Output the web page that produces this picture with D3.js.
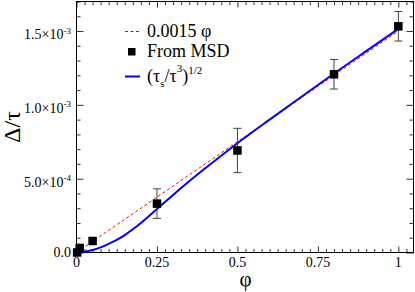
<!DOCTYPE html>
<html>
<head>
<meta charset="utf-8">
<script src="https://cdn.jsdelivr.net/npm/d3@7"></script>
<style>
  body { margin: 0; background: #fff; }
  svg { display: block; }
  text { font-family: "Liberation Serif", "DejaVu Serif", serif; }
</style>
</head>
<body>
<div id="chart"></div>
<script>
// tick labels
let xTicks = [0, 0.25, 0.5, 0.75, 1];
let xTickLabels = ["0", "0.25", "0.5", "0.75", "1"];
let yTicks = [0, 5e-4, 1e-3, 1.5e-3];
let yTickLabels = [["0.0", ""], ["5.0\u00d710", "-4"], ["1.0\u00d710", "-3"], ["1.5\u00d710", "-3"]];

// 0.0015 phi
let linePhi = [0, 1];
let lineVal = [0, 0.0015];

// from MSD
let msdPhi = [0.002, 0.01, 0.05, 0.25, 0.5, 0.8, 1.0];
let msdVal = [0, 3.1e-5, 7.8e-5, 3.31e-4, 6.91e-4, 1.207e-3, 1.532e-3];
let msdErr = [0, 0, 0, 1.0e-4, 1.5e-4, 1.0e-4, 1.0e-4];

// (tau_s/tau^3)^(1/2)
let curvePhi = [0, 0.025, 0.05, 0.075, 0.1, 0.125, 0.15, 0.175, 0.2, 0.25, 0.3, 0.35, 0.4, 0.5, 0.6, 0.7, 0.8, 0.9, 1.0];
let curveVal = [0, 5e-6, 1.7e-5, 3.5e-5, 5.9e-5, 8.6e-5, 1.18e-4, 1.57e-4, 2.0e-4, 2.95e-4, 3.9e-4, 4.82e-4, 5.7e-4, 7.4e-4, 9.0e-4, 1.057e-3, 1.212e-3, 1.364e-3, 1.515e-3];

let width = 415, height = 292;

let svg = d3.select("#chart").append("svg")
    .attr("width", width)
    .attr("height", height);

let x = d3.scaleLinear().domain([0, 1.047]).range([76.5, 413.5]);
let y = d3.scaleLinear().domain([0, 1.7e-3]).range([252.5, 1.5]);

let xMinor = d3.range(0, 1.04, 0.025).filter(v => Math.abs(v / 0.25 - Math.round(v / 0.25)) > 1e-6);
let yMinor = d3.range(0, 1.71e-3, 1e-4).filter(v => Math.abs(v / 5e-4 - Math.round(v / 5e-4)) > 1e-6);

function tickAxis(axisFn, scale, values, size, transform) {
    let g = svg.append("g")
        .attr("transform", transform)
        .call(axisFn(scale).tickValues(values).tickSizeInner(-size).tickSizeOuter(0).tickFormat(""));
    g.select(".domain").remove();
    g.selectAll("line").attr("stroke", "#333").attr("stroke-width", 1);
}

// ticks on all four sides
tickAxis(d3.axisBottom, x, xTicks, 6, "translate(0," + y(0) + ")");
tickAxis(d3.axisBottom, x, xMinor, 3.5, "translate(0," + y(0) + ")");
tickAxis(d3.axisTop, x, xTicks, 6, "translate(0," + y(1.7e-3) + ")");
tickAxis(d3.axisTop, x, xMinor, 3.5, "translate(0," + y(1.7e-3) + ")");
tickAxis(d3.axisLeft, y, yTicks, 7, "translate(" + x(0) + ",0)");
tickAxis(d3.axisLeft, y, yMinor, 4, "translate(" + x(0) + ",0)");
tickAxis(d3.axisRight, y, yTicks, 7, "translate(" + x(1.047) + ",0)");
tickAxis(d3.axisRight, y, yMinor, 4, "translate(" + x(1.047) + ",0)");

// frame
svg.append("rect")
    .attr("x", x(0)).attr("y", y(1.7e-3))
    .attr("width", x(1.047) - x(0)).attr("height", y(0) - y(1.7e-3))
    .attr("fill", "none").attr("stroke", "#000").attr("stroke-width", 1);

// x tick labels
svg.selectAll(".xlab")
    .data(xTicks)
    .enter().append("text")
    .attr("x", d => x(d))
    .attr("y", 266.5)
    .attr("text-anchor", "middle")
    .attr("font-size", 14)
    .text((d, i) => xTickLabels[i]);

// y tick labels
svg.selectAll(".ylab")
    .data(yTicks)
    .enter().append("text")
    .attr("x", 71)
    .attr("y", (d, i) => y(d) + (yTickLabels[i][1] ? 8 : 4.5))
    .attr("text-anchor", "end")
    .attr("font-size", 14)
    .each(function(d, i) {
        let t = d3.select(this);
        t.append("tspan").text(yTickLabels[i][0]);
        if (yTickLabels[i][1]) {
            t.append("tspan").attr("font-size", 9).attr("dy", -5.5).text(yTickLabels[i][1]);
        }
    });

// axis titles
svg.append("text")
    .attr("x", 245.5).attr("y", 286)
    .attr("text-anchor", "middle")
    .attr("font-size", 21)
    .text("\u03c6");

svg.append("text")
    .attr("transform", "translate(20,127) rotate(-90)")
    .attr("text-anchor", "middle")
    .attr("font-size", 24)
    .text("\u0394/\u03c4");

let plot = svg.append("g");

// dashed line
plot.append("path")
    .datum(linePhi)
    .attr("d", d3.line().x(d => x(d)).y((d, i) => y(lineVal[i])))
    .attr("fill", "none")
    .attr("stroke", "#ff0000")
    .attr("stroke-width", 1)
    .attr("stroke-dasharray", "3,2.5");

// blue curve
plot.append("path")
    .datum(curvePhi)
    .attr("d", d3.line().x(d => x(d)).y((d, i) => y(curveVal[i])).curve(d3.curveMonotoneX))
    .attr("fill", "none")
    .attr("stroke", "#0000ff")
    .attr("stroke-width", 2);

// error bars
let errIdx = msdPhi.map((d, i) => i).filter(i => msdErr[i] > 0);
let eb = plot.selectAll(".err").data(errIdx).enter().append("g")
    .attr("stroke", "#444").attr("stroke-width", 1);
eb.append("line")
    .attr("x1", i => x(msdPhi[i])).attr("x2", i => x(msdPhi[i]))
    .attr("y1", i => y(msdVal[i] - msdErr[i])).attr("y2", i => y(msdVal[i] + msdErr[i]));
eb.append("line")
    .attr("x1", i => x(msdPhi[i]) - 4).attr("x2", i => x(msdPhi[i]) + 4)
    .attr("y1", i => y(msdVal[i] - msdErr[i])).attr("y2", i => y(msdVal[i] - msdErr[i]));
eb.append("line")
    .attr("x1", i => x(msdPhi[i]) - 4).attr("x2", i => x(msdPhi[i]) + 4)
    .attr("y1", i => y(msdVal[i] + msdErr[i])).attr("y2", i => y(msdVal[i] + msdErr[i]));

// squares
plot.selectAll(".sq")
    .data(msdPhi)
    .enter().append("rect")
    .attr("x", d => x(d) - 4.25)
    .attr("y", (d, i) => y(msdVal[i]) - 4.25)
    .attr("width", 8.5).attr("height", 8.5)
    .attr("fill", "#000");

// legend
let leg = svg.append("g");
leg.append("line")
    .attr("x1", 125).attr("x2", 139).attr("y1", 31.5).attr("y2", 31.5)
    .attr("stroke", "#ff0000").attr("stroke-width", 1).attr("stroke-dasharray", "3,2.5");
leg.append("rect")
    .attr("x", 128).attr("y", 48).attr("width", 7.5).attr("height", 7.5).attr("fill", "#000");
leg.append("line")
    .attr("x1", 125).attr("x2", 140).attr("y1", 76.5).attr("y2", 76.5)
    .attr("stroke", "#0000ff").attr("stroke-width", 2);

leg.append("text").attr("x", 147).attr("y", 37).attr("font-size", 18).text("0.0015 \u03c6");
leg.append("text").attr("x", 147).attr("y", 57).attr("font-size", 18).text("From MSD");
let t3 = leg.append("text").attr("x", 147).attr("y", 82).attr("font-size", 18);
t3.append("tspan").text("(\u03c4");
t3.append("tspan").attr("font-size", 11).attr("dy", 5).text("s");
t3.append("tspan").attr("dy", -5).text("/\u03c4");
t3.append("tspan").attr("font-size", 11).attr("dy", -10).text("3");
t3.append("tspan").attr("dy", 10).text(")");
t3.append("tspan").attr("font-size", 11).attr("dy", -8).text("1/2");
</script>
</body>
</html>
